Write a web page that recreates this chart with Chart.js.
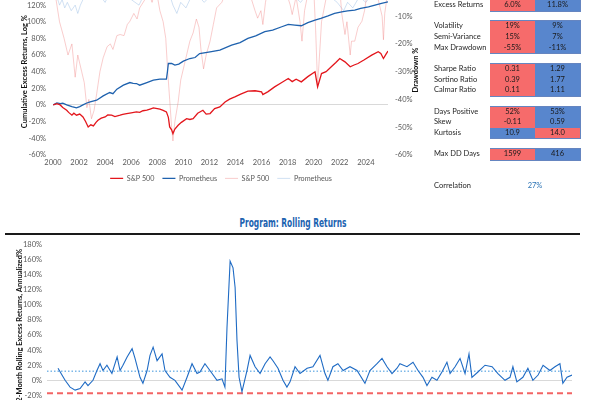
<!DOCTYPE html>
<html>
<head>
<meta charset="utf-8">
<script src="https://cdn.jsdelivr.net/npm/chart.js@4.4.1/dist/chart.umd.min.js"></script>
<style>
  html, body { margin: 0; padding: 0; background: #fff; }
  #page { position: relative; width: 600px; height: 400px; overflow: hidden; font-family: Lato, sans-serif; }
  canvas { position: absolute; }
  #topChart { left: 0; top: -23.5px; }
  #rollChart { left: 0; top: 235px; }
  #ddTitle { position: absolute; left: 415px; top: 70px; transform: translate(-50%, -50%) rotate(-90deg);
             font-weight: bold; font-size: 7.5px; color: #111; white-space: nowrap; }
  .lbl { position: absolute; left: 434px; font-size: 7.5px; color: #262626; white-space: nowrap; }
  .cell { position: absolute; width: 45px; text-align: center; font-size: 7.5px; color: #1a1a1a; }
  .grp { position: absolute; left: 490px; width: 89px; border: 1px solid #6585c0; box-sizing: content-box; }
  #rollTitle { position: absolute; left: 293px; top: 223px; font-family: "Liberation Sans Narrow", "DejaVu Sans Condensed", sans-serif;
               font-weight: bold; font-size: 12px; color: #2163b0; white-space: nowrap; transform-origin: center; }
  #rule { position: absolute; left: 5px; top: 233px; width: 575px; height: 2px; background: #1a1a1a; }
</style>
</head>
<body>
<div id="page">
  <canvas id="topChart" width="442" height="215"></canvas>
  <div id="ddTitle">Drawdown %</div>
  <div id="stats"></div>
  <div id="rollTitle">Program: Rolling Returns</div>
  <div id="rule"></div>
  <canvas id="rollChart" width="580" height="185"></canvas>
</div>
<script>
// ---- cumulative excess returns (log %) ----
const spYears = [2000.02, 2000.3, 2000.55, 2000.75, 2001.05, 2001.2, 2001.45, 2001.6, 2001.8, 2002.05, 2002.3, 2002.5, 2002.7, 2002.9,
  2003.1, 2003.3, 2003.45, 2003.7, 2004.0, 2004.2, 2004.5, 2004.75, 2005.15, 2005.35, 2005.65, 2006.0, 2006.4, 2006.65, 2006.9,
  2007.2, 2007.45, 2007.7, 2008.0, 2008.2, 2008.45, 2008.7, 2008.85, 2008.95, 2009.1, 2009.2, 2009.35, 2009.6, 2009.85, 2010.25,
  2010.5, 2010.75, 2011.1, 2011.5, 2011.75, 2012.05, 2012.4, 2012.8, 2013.2, 2013.55, 2013.95, 2014.4, 2014.95, 2015.5, 2016.0,
  2016.1, 2016.5, 2017.0, 2017.55, 2018.05, 2018.35, 2018.65, 2019.05, 2019.55, 2020.1, 2020.3, 2020.6, 2020.95, 2021.35, 2021.7,
  2022.0, 2022.4, 2022.8, 2023.1, 2023.4, 2023.85, 2024.45, 2024.95, 2025.15, 2025.35, 2025.55, 2025.7];
const spCum = [0, 1.5, 0, -3, -6.4, -9, -12.4, -10, -12.4, -11, -14.5, -20, -26.5, -24,
  -25.3, -21, -18.5, -16, -14.5, -12, -12.4, -14, -12.4, -11.5, -10.4, -9.5, -8.4, -9, -7,
  -6.4, -5, -3.6, -4.5, -5.2, -6.5, -8.4, -15, -26.5, -30, -34.5, -29, -24.5, -21, -16.5,
  -17.5, -16.5, -10, -6.4, -11, -10.4, -4.4, -2.4, 3.6, 7, 9.6, 13, 16.5, 17, 15.7,
  12.4, 16, 21.7, 27, 31.7, 28, 31, 27.7, 34, 39.8, 21.7, 37.7, 40, 45.8, 51,
  55.8, 51.8, 45.8, 48, 49.8, 54, 59.9, 63.9, 62, 55.8, 61, 64.7];

const promYears = [2000.02, 2000.3, 2000.55, 2000.75, 2001.05, 2001.45, 2001.8, 2002.05, 2002.3, 2002.55, 2002.85, 2003.35, 2003.85,
  2004.35, 2004.6, 2004.9, 2005.4, 2005.9, 2006.15, 2006.4, 2006.65, 2007.2, 2007.7, 2008.2, 2008.7, 2008.78, 2008.85, 2009.1,
  2009.35, 2009.65, 2010.0, 2010.5, 2010.9, 2011.25, 2012.05, 2012.8, 2013.7, 2014.35, 2014.95, 2015.55, 2016.25, 2016.85,
  2017.55, 2018.05, 2018.55, 2019.05, 2019.55, 2020.1, 2020.55, 2021.1, 2021.6, 2022.15, 2022.6, 2023.15, 2023.6, 2024.2,
  2024.7, 2025.2, 2025.7];
const promCum = [0, 2.5, 1.6, 2, 0, -2, -3.6, -2, 0, 2, 3.6, 5.6, 10.8,
  14.9, 13.5, 18.9, 23.7, 26.9, 26, 25.7, 23.7, 26.9, 29.7, 30.9, 30.9, 40, 49.8, 49.8,
  47.8, 49, 52.6, 55.8, 57, 61.8, 63.9, 65.9, 71.9, 75, 79.9, 83, 88, 90,
  94, 96.8, 96, 95.2, 99, 102, 104, 107, 110, 112, 113, 114, 116, 118,
  120, 122, 124];

// ---- drawdowns (%) ----
const spDDYears = [2000.0, 2000.2, 2000.5, 2000.85, 2001.15, 2001.45, 2001.7, 2001.9, 2002.2, 2002.4, 2002.6, 2002.75, 2002.95, 2003.15,
  2003.35, 2003.6, 2003.85, 2004.15, 2004.4, 2004.6, 2004.9, 2005.15, 2005.45, 2005.7, 2005.9, 2006.2, 2006.45, 2006.65, 2007.05,
  2007.3, 2007.6, 2007.9, 2008.2, 2008.45, 2008.65, 2008.8, 2008.95, 2009.1, 2009.2, 2009.35, 2009.6, 2009.8, 2010.0, 2010.25,
  2010.5, 2010.75, 2011.0, 2011.2, 2011.35, 2011.55, 2011.75, 2012.05, 2012.3, 2012.55, 2012.95, 2013.4, 2014.35, 2015.1, 2015.5,
  2015.7, 2015.95, 2016.1, 2016.3, 2016.5, 2017.8, 2018.2, 2018.35, 2018.65, 2018.95, 2019.1, 2019.3, 2019.55, 2020.0, 2020.15,
  2020.3, 2020.5, 2020.6, 2020.85, 2021.1, 2022.0, 2022.15, 2022.4, 2022.55, 2022.8, 2022.9, 2023.15, 2023.4, 2023.7, 2023.9,
  2024.15, 2024.9, 2025.25, 2025.35, 2025.45, 2025.6, 2025.7];
const spDD = [0, -3, -12, -18, -24, -20, -32, -24, -30, -34, -43, -40, -47, -44,
  -38, -30, -25, -21, -20, -22, -17, -16.6, -17, -13, -11.8, -9, -11, -7, -4,
  -1, -5, 0, -8, -12, -18, -30, -40, -50, -55, -48, -41, -33, -29, -24,
  -19, -16, -11, -14, -22, -29, -24, -19, -13, -7, -5, 0, -3, -2, -8,
  -10.7, -8, -13, -5, 0, 0, -6, -9.4, -3, -12, -19, -8, -2, 0, -15,
  -35, -20, -12, -6, 0, 0, -9, -16.6, -12, -24, -19, -19, -14, -11.8, -8,
  0, -3, -10, -18.5, -9, -4, 0];

const promDDYears = [2000.0, 2000.3, 2000.5, 2000.7, 2000.9, 2001.1, 2001.4, 2001.7, 2001.9, 2002.1, 2002.4, 2002.6, 2003.5, 2004.0,
  2004.3, 2005.0, 2005.5, 2006.0, 2006.6, 2006.9, 2007.5, 2008.2, 2008.5, 2008.8, 2009.2, 2009.5, 2009.8, 2010.2, 2010.6, 2011.0,
  2011.6, 2012.2, 2013.0, 2014.0, 2015.0, 2016.0, 2016.6, 2017.5, 2018.5, 2019.0, 2019.5, 2020.3, 2021.0, 2021.8, 2022.3, 2022.6,
  2023.0, 2023.5, 2024.0, 2024.5, 2025.0, 2025.5, 2025.7];
const promDD = [0, -3, -6, -4, -7, -5, -8, -6, -9, -6, -3, 0, -2, -5,
  -2, -3, -1, -4, -6, -3, -2, -3, -4, 0, -6, -9, -5, -7, -3, -2,
  -5, -2, -3, -2, -3, -4, -1, -2, -3, -5, -2, -4, -2, -5, -8, -5,
  -7, -3, -5, -2, -4, -2, 0];

// ---- 12-month rolling excess returns, annualized % ----
const rollYears = [2001.00, 2001.19, 2001.34, 2001.58, 2001.82, 2002.06, 2002.30, 2002.44, 2002.68, 2002.87, 2003.02, 2003.16,
  2003.35, 2003.59, 2003.84, 2003.98, 2004.12, 2004.32, 2004.56, 2004.70, 2004.94, 2005.08, 2005.28, 2005.42, 2005.57, 2005.76,
  2006.00, 2006.14, 2006.38, 2006.62, 2006.96, 2007.20, 2007.44, 2007.68, 2007.82, 2008.06, 2008.30, 2008.64, 2008.88, 2009.02,
  2009.12, 2009.27, 2009.41, 2009.51, 2009.60, 2009.70, 2009.84, 2010.08, 2010.23, 2010.47, 2010.71, 2010.95, 2011.19, 2011.33,
  2011.57, 2011.81, 2012.00, 2012.15, 2012.39, 2012.63, 2012.97, 2013.25, 2013.59, 2013.83, 2013.97, 2014.21, 2014.45, 2014.70,
  2015.03, 2015.37, 2015.75, 2015.99, 2016.33, 2016.57, 2016.81, 2017.05, 2017.29, 2017.43, 2017.77, 2018.06, 2018.30, 2018.54,
  2018.73, 2018.97, 2019.21, 2019.45, 2019.69, 2019.84, 2020.08, 2020.32, 2020.56, 2020.75, 2020.89, 2021.18, 2021.52, 2021.86,
  2022.14, 2022.48, 2022.72, 2022.86, 2023.05, 2023.34, 2023.58, 2023.82, 2024.07, 2024.31, 2024.64, 2024.88, 2025.12, 2025.26,
  2025.46, 2025.70];
const rollValues = [16, 7, 0, -9, -13, -11, -2, -7, 0, 13, 22, 13,
  20, 9, 31, 13, 20, 31, 42, 29, 4, -4, 13, 33, 44, 26,
  35, 13, 4, 0, -13, 4, 22, 9, 11, 22, 13, 0, 2, -9,
  70, 158, 149, 123, 53, 4, -15, 13, 33, 18, 9, 22, 31, 26,
  16, 0, -9, -2, 18, 9, 16, 18, 33, 9, 0, 18, 22, 13,
  18, 13, -4, 13, 22, 29, 18, 9, 16, 22, 18, 24, 13, 4,
  -7, 4, 0, 11, 24, 9, 18, 29, 9, 35, 4, 11, 20, 18,
  9, 0, 4, 18, -2, 4, 16, 0, 7, 20, 13, 18, 22, -4,
  4, 7];
const rollAverage = 12;
const rollFloor = -17;

// ---- statistics table ----
const statLabels = ['Excess Returns', 'Volatility', 'Semi-Variance', 'Max Drawdown', 'Sharpe Ratio', 'Sortino Ratio',
  'Calmar Ratio', 'Days Positive', 'Skew', 'Kurtosis', 'Max DD Days'];
const spStats = ['6.0%', '19%', '15%', '-55%', '0.31', '0.39', '0.11', '52%', '-0.11', '10.9', '1599'];
const promStats = ['11.8%', '9%', '7%', '-11%', '1.29', '1.77', '1.11', '53%', '0.59', '14.0', '416'];
const betterSide = ['P', 'P', 'P', 'P', 'P', 'P', 'P', 'P', 'P', 'S', 'P'];
const statGroups = [[0], [1, 2, 3], [4, 5, 6], [7, 8, 9], [10]];
const correlation = '27%';

const RED = '#f66b6b', BLUE = '#5886cd';
const ROW_H = 10.65;
const stats = document.getElementById('stats');
let row = 0;
statGroups.forEach(g => {
  const box = document.createElement('div');
  box.className = 'grp';
  box.style.top = (row * ROW_H - 1) + 'px';
  box.style.height = (g.length * ROW_H) + 'px';
  stats.appendChild(box);
  g.forEach(i => {
    const top = row * ROW_H;
    const l = document.createElement('div');
    l.className = 'lbl';
    l.style.top = top + 'px';
    l.style.lineHeight = ROW_H + 'px';
    l.textContent = statLabels[i];
    stats.appendChild(l);
    [[spStats[i], 490, betterSide[i] === 'S'], [promStats[i], 535, betterSide[i] === 'P']].forEach(([txt, left, good]) => {
      const c = document.createElement('div');
      c.className = 'cell';
      c.style.left = left + 'px';
      c.style.top = top + 'px';
      c.style.height = ROW_H + 'px';
      c.style.lineHeight = ROW_H + 'px';
      c.style.background = good ? BLUE : RED;
      c.textContent = txt;
      stats.appendChild(c);
    });
    row++;
  });
  row++;
});
row++;
const cl = document.createElement('div');
cl.className = 'lbl';
cl.style.top = (row * ROW_H) + 'px';
cl.style.lineHeight = ROW_H + 'px';
cl.textContent = 'Correlation';
stats.appendChild(cl);
const cv = document.createElement('div');
cv.className = 'cell';
cv.style.left = '512.5px';
cv.style.top = (row * ROW_H) + 'px';
cv.style.lineHeight = ROW_H + 'px';
cv.style.color = '#2e75b6';
cv.textContent = correlation;
stats.appendChild(cv);

// title squeeze to the condensed look
const rt = document.getElementById('rollTitle');
const w = rt.getBoundingClientRect().width;
rt.style.transform = 'translate(-50%, -50%) scaleX(' + (107 / w) + ')';

// ---- charts ----
Chart.defaults.font.family = 'Lato, sans-serif';
Chart.defaults.font.size = 7.5;
Chart.defaults.color = '#595959';

const toPts = (xs, ys) => xs.map((x, i) => ({ x: x, y: ys[i] }));
const zeroGrid = ctx => ctx.tick.value === 0 ? '#d9d9d9' : 'rgba(0,0,0,0)';

new Chart(document.getElementById('topChart'), {
  type: 'line',
  data: {
    datasets: [
      { label: 'S&P 500', data: toPts(spYears, spCum), yAxisID: 'y', borderColor: '#e3161c', backgroundColor: '#e3161c', borderWidth: 1.3 },
      { label: 'Prometheus', data: toPts(promYears, promCum), yAxisID: 'y', borderColor: '#1f62ae', backgroundColor: '#1f62ae', borderWidth: 1.3 },
      { label: 'S&P 500', data: toPts(spDDYears, spDD), yAxisID: 'y2', borderColor: 'rgba(240,130,130,0.45)', backgroundColor: 'rgba(240,130,130,0.45)', borderWidth: 0.9 },
      { label: 'Prometheus', data: toPts(promDDYears, promDD), yAxisID: 'y2', borderColor: 'rgba(140,180,225,0.45)', backgroundColor: 'rgba(140,180,225,0.45)', borderWidth: 0.9 }
    ]
  },
  options: {
    responsive: false,
    animation: false,
    elements: { point: { radius: 0 }, line: { tension: 0 } },
    plugins: {
      legend: {
        position: 'bottom',
        labels: { usePointStyle: true, pointStyle: 'line', pointStyleWidth: 13, padding: 8, color: '#595959', font: { size: 7.2 } }
      },
      tooltip: { enabled: false }
    },
    scales: {
      x: {
        type: 'linear', min: 2000, max: 2025.7,
        ticks: { stepSize: 2, includeBounds: false, padding: 3.5, callback: v => String(v) },
        grid: { display: false, drawTicks: false }, border: { display: false },
        afterFit: s => { s.height = s.height - 4; }
      },
      y: {
        position: 'left', min: -60, max: 140,
        ticks: { stepSize: 20, padding: 7, callback: v => v + '%' },
        grid: { color: zeroGrid, drawTicks: false }, border: { display: false },
        title: { display: true, text: 'Cumulative Excess Returns, Log %', color: '#111', font: { size: 7.5, weight: 'bold' }, padding: { top: 20.5, bottom: 0 } },
        afterFit: s => { s.width = 53; }
      },
      y2: {
        position: 'right', min: -60, max: 0,
        ticks: { stepSize: 10, padding: 7, callback: v => v + '%' },
        grid: { display: false, drawTicks: false }, border: { display: false },
        afterFit: s => { s.width = 54; }
      }
    }
  }
});

const rollMin = 2000.47, rollMax = 2025.7;
new Chart(document.getElementById('rollChart'), {
  type: 'line',
  data: {
    datasets: [
      { label: 'Rolling', data: toPts(rollYears, rollValues), borderColor: '#1f6bc4', borderWidth: 1.1 },
      { label: 'Average', data: toPts([rollMin, rollMax], [rollAverage, rollAverage]), borderColor: '#7db8e8', borderWidth: 1.3, borderDash: [1.5, 2] },
      { label: 'Floor', data: toPts([rollMin, rollMax], [rollFloor, rollFloor]), borderColor: '#f26464', borderWidth: 2, borderDash: [6, 4] }
    ]
  },
  options: {
    responsive: false,
    animation: false,
    layout: { padding: { right: 8 } },
    elements: { point: { radius: 0 }, line: { tension: 0 } },
    plugins: { legend: { display: false }, tooltip: { enabled: false } },
    scales: {
      x: { type: 'linear', min: rollMin, max: rollMax, display: false },
      y: {
        min: -40, max: 180,
        ticks: { stepSize: 20, padding: 5, callback: v => v + '%' },
        grid: { color: zeroGrid, drawTicks: false }, border: { display: false },
        title: { display: true, text: '12-Month Rolling Excess Returns, Annualized%', color: '#111', font: { size: 7.5, weight: 'bold' }, padding: { top: 15.5, bottom: 0 } },
        afterFit: s => { s.width = 47; }
      }
    }
  }
});
</script>
</body>
</html>
